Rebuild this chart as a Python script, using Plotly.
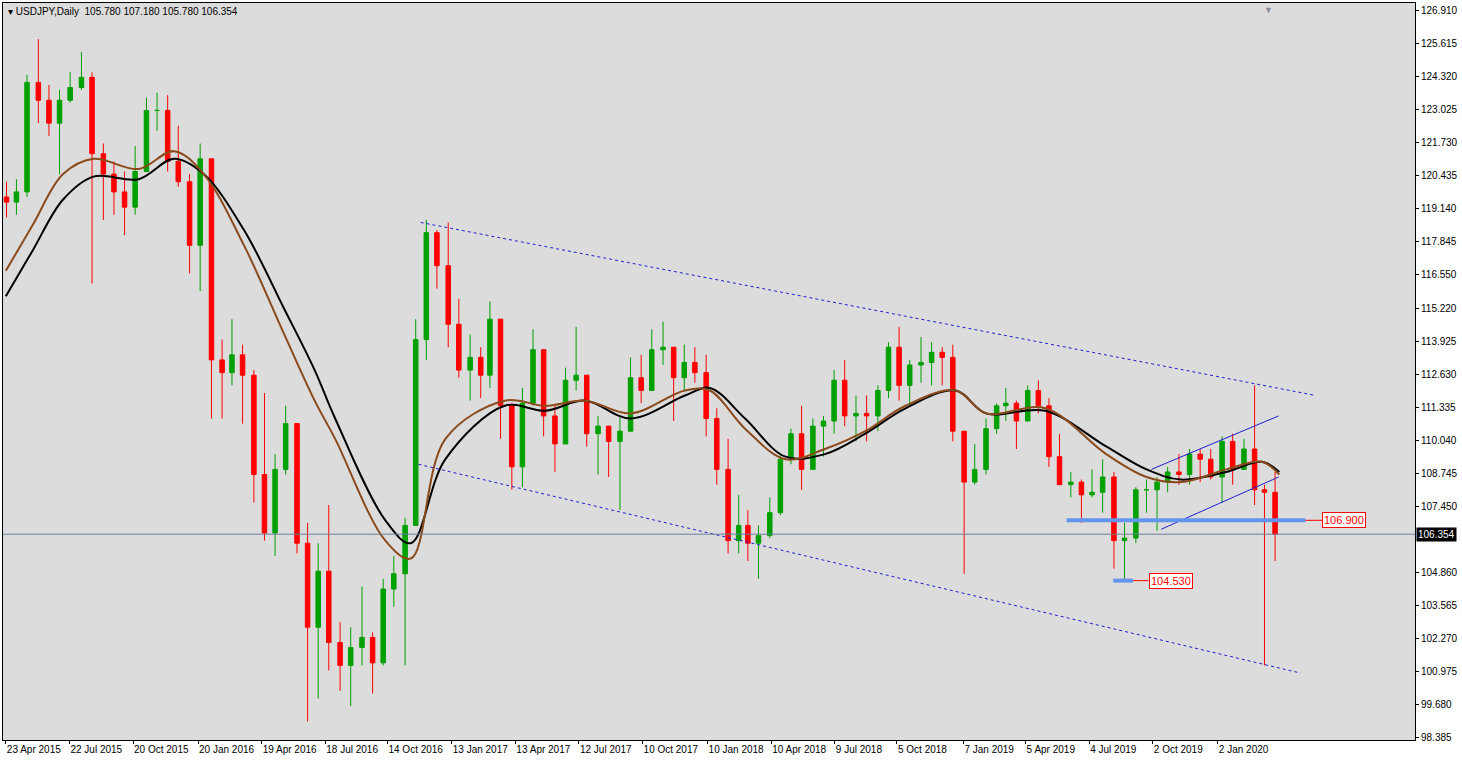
import plotly.graph_objects as go
import pandas as pd

# half-month candles (8th = first half, 23rd = second half)
months = pd.period_range("2015-05", "2020-03", freq="M")
dates = ["2015-04-24"]
for m in months:
    dates += [f"{m}-08", f"{m}-23"]

first_open = 119.6
closes = [119.4,
 119.8,124.1, 123.4,122.5, 123.4,123.9, 124.3,121.3, 120.5,119.8, 119.2,120.6, 123.0,123.0, 121.0,120.2,
 117.7,121.1, 113.2,112.7, 113.4,112.6, 108.7,106.4, 108.9,110.7, 106.0,102.7, 104.9,102.1, 101.2,101.9, 102.3,101.3, 104.2,104.8, 106.7,114.0, 118.2,116.9,
 114.6,112.8, 113.3,112.6, 114.8,111.4, 109.0,111.5, 113.6,111.0, 109.9,112.4, 112.6,110.3, 110.6,110.0, 110.4,112.5, 112.0,113.6, 113.7,112.5, 113.1,112.7,
 110.9,108.9, 106.1,106.7, 106.0,106.3, 107.2,109.3, 110.3,108.9, 110.6,110.8, 112.4,111.0, 111.1,111.0, 112.0,113.7, 112.2,113.0, 113.1,113.5, 113.3,110.4,
 108.4,108.9, 110.5,111.4, 111.5,110.8, 112.0,111.4, 109.4,108.3, 108.4,107.9, 108.0,108.6, 106.1,106.2, 108.1,108.1, 108.4,108.8, 108.7,109.5, 109.3,108.6,
 110.0,108.9, 109.7,108.1, 108.0,106.354]
highs = [120.2,
 120.3,124.4, 125.8,124.0, 123.8,124.5, 125.3,124.5, 121.7,121.0, 120.6,121.6, 123.5,123.7, 123.6,122.4,
 120.5,121.7, 121.0,114.0, 114.8,113.8, 112.8,111.9, 109.5,111.4, 110.5,106.8, 106.0,107.5, 102.9,102.7, 104.3,102.5, 104.6,105.5, 107.0,114.8, 118.7,118.3,
 118.6,115.6, 114.2,113.7, 115.5,114.6, 111.5,112.1, 114.4,113.4, 111.4,112.9, 114.5,112.2, 111.0,110.6, 111.0,113.3, 113.4,114.4, 114.7,113.7, 113.8,113.7,
 113.4,111.3, 110.1,107.9, 107.3,106.7, 107.8,109.5, 110.5,111.4, 110.9,111.0, 112.8,113.2, 111.8,111.8, 112.2,113.9, 114.5,113.2, 114.1,113.9, 113.7,113.8,
 109.2,109.9, 110.9,111.5, 112.1,111.6, 112.2,112.4, 111.7,110.3, 108.8,108.5, 108.9,109.3, 108.8,106.8, 108.2,108.5, 108.6,109.0, 109.5,109.7, 109.7,109.7,
 110.2,110.3, 110.1,112.2, 108.3,108.8]
lows = [118.8,
 118.9,119.6, 122.5,122.0, 120.5,123.3, 123.8,116.2, 118.7,118.9, 118.1,118.9, 120.6,122.2, 120.6,120.0,
 116.6,115.9, 110.9,110.9, 112.2,110.7, 107.6,106.1, 105.5,108.7, 105.6,99.0, 99.9,101.0, 100.2,99.6, 101.2,100.1, 101.2,103.5, 101.2,107.2, 113.2,116.0,
 113.7,112.5, 111.6,111.7, 112.1,110.1, 108.1,108.2, 111.4,110.2, 108.8,110.8, 112.0,109.8, 108.7,108.6, 107.3,110.5, 111.5,112.5, 113.0,110.8, 112.0,112.3,
 110.2,108.3, 105.6,105.6, 105.3,104.6, 106.2,107.1, 109.1,108.1, 108.9,109.4, 110.3,110.6, 110.0,110.0, 110.4,111.7, 111.6,111.4, 112.3,112.2, 112.2,110.0,
 104.8,108.3, 108.7,110.3, 110.8,109.7, 110.9,111.1, 109.0,108.3, 107.8,106.8, 107.8,107.2, 105.0,104.5, 106.0,107.2, 106.5,108.0, 108.3,108.3, 108.4,108.5,
 107.6,108.3, 109.0,107.5, 101.2,105.3]
opens = [first_open] + closes[:-1]

ma_dates = ["2015-04-23","2015-05-31","2015-07-13","2015-08-25","2015-10-28","2015-12-17","2016-01-28",
 "2016-03-25","2016-05-21","2016-07-03","2016-08-01","2016-10-11","2016-11-16","2017-01-04","2017-03-29",
 "2017-05-25","2017-07-21","2017-09-23","2017-12-09","2018-01-13","2018-03-04","2018-04-30","2018-06-25",
 "2018-08-21","2018-10-17","2018-12-27","2019-02-08","2019-05-03","2019-07-28","2019-09-23","2019-11-11",
 "2020-01-14","2020-03-04","2020-03-29"]
ma_black = [115.7,117.5,119.5,120.4,120.3,121.1,120.5,118.3,115.2,112.8,110.9,106.9,106.0,109.3,111.4,
 111.2,111.6,110.9,111.8,112.1,110.9,109.4,109.5,110.3,111.3,112.0,111.1,111.2,109.8,108.9,108.5,108.8,109.2,108.8]
ma_brown = [116.7,118.5,120.5,121.1,120.7,121.4,120.5,117.7,114.2,111.6,110.1,106.1,105.4,110.1,111.6,
 111.4,111.6,111.1,112.0,112.0,110.5,109.3,109.7,110.4,111.4,112.0,111.1,111.3,109.5,108.6,108.4,108.9,109.2,108.7]

upper_trend = (["2016-11-30", "2020-05-20"], [118.6, 111.8])
lower_trend = (["2016-11-27", "2020-04-28"], [109.1, 100.9])
chan_up = (["2019-09-30", "2020-03-28"], [108.9, 111.0])
chan_lo = (["2019-10-14", "2020-03-28"], [106.55, 108.6])
level1 = 106.900
level2 = 104.530
last_price = 106.354

yticks = [126.910,125.615,124.320,123.025,121.730,120.435,119.140,117.845,116.550,115.220,113.925,
 112.630,111.335,110.040,108.745,107.450,104.860,103.565,102.270,100.975,99.680,98.385]
xtick_dates = ["2015-04-23","2015-07-22","2015-10-20","2016-01-20","2016-04-19","2016-07-18","2016-10-14",
 "2017-01-13","2017-04-13","2017-07-12","2017-10-10","2018-01-10","2018-04-10","2018-07-09","2018-10-05",
 "2019-01-07","2019-04-05","2019-07-04","2019-10-02","2020-01-02"]
xtick_text = ["23 Apr 2015","22 Jul 2015","20 Oct 2015","20 Jan 2016","19 Apr 2016","18 Jul 2016","14 Oct 2016",
 "13 Jan 2017","13 Apr 2017","12 Jul 2017","10 Oct 2017","10 Jan 2018","10 Apr 2018","9 Jul 2018","5 Oct 2018",
 "7 Jan 2019","5 Apr 2019","4 Jul 2019","2 Oct 2019","2 Jan 2020"]

fig = go.Figure()
fig.add_trace(go.Candlestick(x=dates, open=opens, high=highs, low=lows, close=closes,
    increasing=dict(line=dict(color="#00a000", width=1), fillcolor="#00a000"),
    decreasing=dict(line=dict(color="#ff0000", width=1), fillcolor="#ff0000"),
    whiskerwidth=0, showlegend=False))
fig.add_trace(go.Scatter(x=ma_dates, y=ma_black, mode="lines", line=dict(color="black", width=2, shape="spline"), showlegend=False))
fig.add_trace(go.Scatter(x=ma_dates, y=ma_brown, mode="lines", line=dict(color="#8b4a1c", width=2, shape="spline"), showlegend=False))
for (xs, ys) in [upper_trend, lower_trend]:
    fig.add_trace(go.Scatter(x=xs, y=ys, mode="lines", line=dict(color="#1f1fd0", width=1, dash="dot"), showlegend=False))
for (xs, ys) in [chan_up, chan_lo]:
    fig.add_trace(go.Scatter(x=xs, y=ys, mode="lines", line=dict(color="#1f1fd0", width=1), showlegend=False))
fig.add_trace(go.Scatter(x=["2019-06-02", "2020-05-05"], y=[level1, level1], mode="lines", line=dict(color="#6495ed", width=4), showlegend=False))
fig.add_trace(go.Scatter(x=["2020-05-05", "2020-05-29"], y=[level1, level1], mode="lines", line=dict(color="#ff0000", width=1), showlegend=False))
fig.add_trace(go.Scatter(x=["2019-08-07", "2019-09-04"], y=[level2, level2], mode="lines", line=dict(color="#6495ed", width=4), showlegend=False))
fig.add_trace(go.Scatter(x=["2019-09-04", "2019-09-26"], y=[level2, level2], mode="lines", line=dict(color="#ff0000", width=1), showlegend=False))

fig.add_hline(y=last_price, line=dict(color="#6a7f9a", width=1))
fam = "Liberation Sans"
font = dict(family=fam, size=10, color="black")
fig.add_annotation(x="2020-05-29", y=level1, text=f"{level1:.3f}", showarrow=False, xanchor="left",
    font=dict(family=fam, size=11, color="#ff0000"), bgcolor="white", bordercolor="#ff0000", borderwidth=1, borderpad=1)
fig.add_annotation(x="2019-09-26", y=level2, text=f"{level2:.3f}", showarrow=False, xanchor="left",
    font=dict(family=fam, size=11, color="#ff0000"), bgcolor="white", bordercolor="#ff0000", borderwidth=1, borderpad=1)
fig.add_annotation(xref="paper", x=1.0, y=last_price, text=f"{last_price:.3f}", showarrow=False, xanchor="left",
    xshift=1, font=dict(family=fam, size=10, color="white"), bgcolor="black", borderpad=1)
fig.add_annotation(xref="paper", yref="paper", x=0.002, y=0.998, text="▾ USDJPY,Daily  105.780 107.180 105.780 106.354",
    showarrow=False, xanchor="left", yanchor="top", font=font)
fig.add_annotation(xref="paper", yref="paper", x=0.901, y=1.0, text="▼", showarrow=False, yanchor="top",
    font=dict(size=9, color="#8a8a9a"))

fig.update_layout(width=1462, height=761, margin=dict(l=3, r=47, t=3, b=21),
    paper_bgcolor="white", plot_bgcolor="#dcdcdc", font=font,
    xaxis=dict(type="date", range=["2015-04-19", "2020-10-07"], rangeslider=dict(visible=False),
        tickvals=xtick_dates, ticktext=xtick_text, ticklabelposition="outside right", tickangle=0,
        automargin=False, showgrid=False, ticks="outside", ticklen=3, tickcolor="black",
        showline=True, linecolor="black", mirror=True, zeroline=False),
    yaxis=dict(side="right", range=[98.27, 127.22], tickvals=yticks, ticktext=[f"{v:.3f}" for v in yticks],
        automargin=False, showgrid=False, ticks="outside", ticklen=3, tickcolor="black",
        showline=True, linecolor="black", mirror=True, zeroline=False))
fig.write_html("out.html", config={"displayModeBar": False},
               post_script="document.body.style.margin='0';document.body.style.overflow='hidden';")
